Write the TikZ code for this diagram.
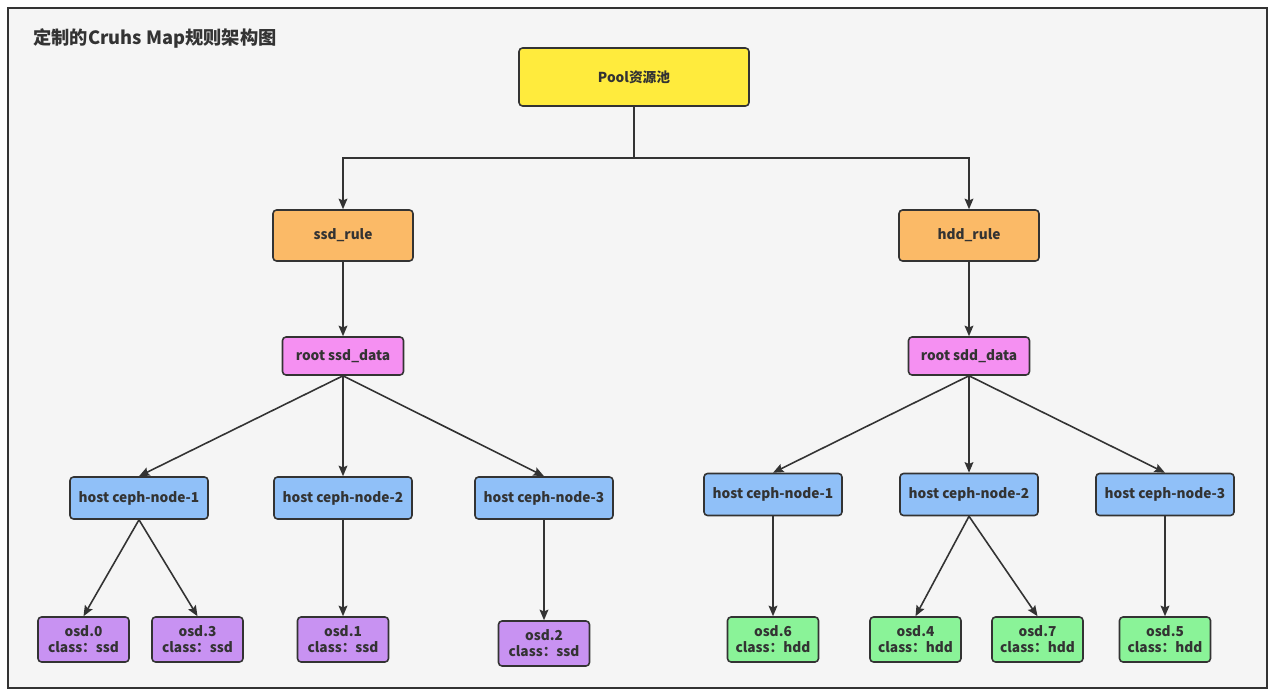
\documentclass[tikz,border=0pt]{standalone}
\usepackage{fontspec}
\setmainfont{Noto Sans CJK SC}
\usepackage{tikz}
\usetikzlibrary{arrows.meta}
\definecolor{edgec}{HTML}{333333}
\definecolor{bgc}{HTML}{F5F5F5}
\definecolor{poolc}{HTML}{FFEB3D}
\definecolor{rulec}{HTML}{FBBA67}
\definecolor{rootc}{HTML}{F590F2}
\definecolor{hostc}{HTML}{90C0F8}
\definecolor{ssdc}{HTML}{C892F2}
\definecolor{hddc}{HTML}{8AF398}

\begin{document}
\begin{tikzpicture}[x=0.02cm,y=-0.02cm,
  box/.style={draw=edgec,line width=0.9pt,rounded corners=2pt,align=center,inner sep=0pt,font=\bfseries\fontsize{7.8}{9.6}\selectfont,text=edgec},
  pool/.style={box,fill=poolc,minimum width=4.6cm,minimum height=1.16cm},
  rule/.style={box,fill=rulec,minimum width=2.8cm,minimum height=1.02cm},
  root/.style={box,fill=rootc,minimum width=2.42cm,minimum height=0.76cm},
  host/.style={box,fill=hostc,minimum width=2.76cm,minimum height=0.84cm},
  osd/.style={box,minimum width=1.82cm,minimum height=0.9cm,font=\bfseries\fontsize{7.8}{9}\selectfont},
  arr/.style={-{Stealth[length=6pt,width=5pt,inset=1pt]},draw=edgec,line width=0.9pt}]
\useasboundingbox (0,0) rectangle (1274,696);
\draw[edgec,line width=1.2pt,fill=bgc] (8,8) rectangle (1267,688);
\node[anchor=west,inner sep=0pt,font=\bfseries\fontsize{10.4}{12}\selectfont,text=edgec] (title) at (33,38) {定制的Cruhs Map规则架构图};
% top
\node[pool] (pool) at (634,77) {Pool资源池};
\node[rule] (ssdrule) at (343,235.5) {ssd\_rule};
\node[rule] (hddrule) at (969,235.5) {hdd\_rule};
\coordinate (split) at (634,158);
\draw[arr] (pool.south) -- (split) -| (ssdrule.north);
\draw[arr] (split) -| (hddrule.north);
% ssd side
\node[root] (ssdroot) at (343,356) {root ssd\_data};
\node[host] (sh1) at (139,498) {host ceph-node-1};
\node[host] (sh2) at (343,498) {host ceph-node-2};
\node[host] (sh3) at (544,498) {host ceph-node-3};
\node[osd,fill=ssdc] (osd0) at (83.5,639.5) {osd.0\\class：ssd};
\node[osd,fill=ssdc] (osd3) at (197.5,639.5) {osd.3\\class：ssd};
\node[osd,fill=ssdc] (osd1) at (343,639.5) {osd.1\\class：ssd};
\node[osd,fill=ssdc] (osd2) at (544,643.5) {osd.2\\class：ssd};
\draw[arr] (ssdrule) -- (ssdroot);
\draw[arr] (ssdroot.south) -- (sh1.north);
\draw[arr] (ssdroot.south) -- (sh2.north);
\draw[arr] (ssdroot.south) -- (sh3.north);
\draw[arr] (sh1.south) -- (osd0.north);
\draw[arr] (sh1.south) -- (osd3.north);
\draw[arr] (sh2.south) -- (osd1.north);
\draw[arr] (sh3.south) -- (osd2.north);
% hdd side
\node[root] (hddroot) at (969,356) {root sdd\_data};
\node[host] (hh1) at (773,494.5) {host ceph-node-1};
\node[host] (hh2) at (969,494.5) {host ceph-node-2};
\node[host] (hh3) at (1165,494.5) {host ceph-node-3};
\node[osd,fill=hddc] (osd6) at (773,639.5) {osd.6\\class：hdd};
\node[osd,fill=hddc] (osd4) at (915.5,639.5) {osd.4\\class：hdd};
\node[osd,fill=hddc] (osd7) at (1037.5,639.5) {osd.7\\class：hdd};
\node[osd,fill=hddc] (osd5) at (1165,639.5) {osd.5\\class：hdd};
\draw[arr] (hddrule) -- (hddroot);
\draw[arr] (hddroot.south) -- (hh1.north);
\draw[arr] (hddroot.south) -- (hh2.north);
\draw[arr] (hddroot.south) -- (hh3.north);
\draw[arr] (hh1.south) -- (osd6.north);
\draw[arr] (hh2.south) -- (osd4.north);
\draw[arr] (hh2.south) -- (osd7.north);
\draw[arr] (hh3.south) -- (osd5.north);
\end{tikzpicture}
\end{document}
